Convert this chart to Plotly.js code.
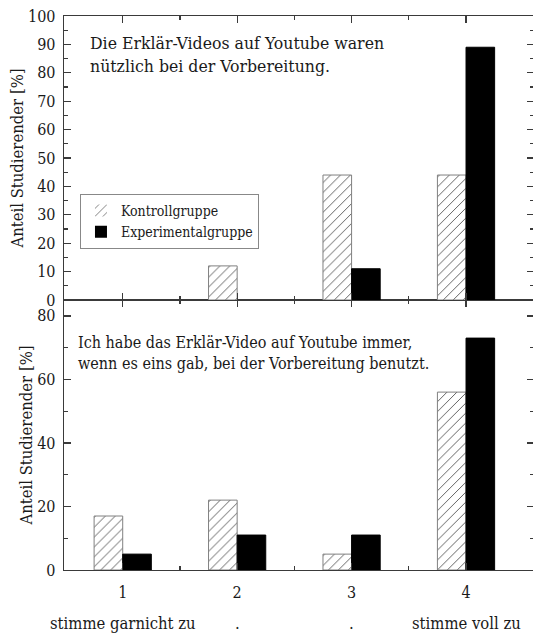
<!DOCTYPE html>
<html>
<head>
<meta charset="utf-8">
<script src="https://cdn.plot.ly/plotly-3.0.1.min.js"></script>
<style>
html,body{margin:0;padding:0;overflow:hidden;background:#fff;}
#chart{width:536px;height:635px;}
</style>
</head>
<body>
<div id="chart"></div>
<script>
// ---- data ----
const categories = [1, 2, 3, 4];
const tickLabels = ['1', '2', '3', '4'];
const scaleLabels = ['stimme garnicht zu', '.', '.', 'stimme voll zu'];
const seriesNames = ['Kontrollgruppe', 'Experimentalgruppe'];
const topKontroll = [0, 12, 44, 44];
const topExperimental = [0, 0, 11, 89];
const bottomKontroll = [17, 22, 5, 56];
const bottomExperimental = [5, 11, 11, 73];
const topStatement = 'Die Erklär-Videos auf Youtube waren<br>nützlich bei der Vorbereitung.';
const bottomStatement = 'Ich habe das Erklär-Video auf Youtube immer,<br>wenn es eins gab, bei der Vorbereitung benutzt.';
const yTitle = 'Anteil Studierender [%]';

// ---- styles ----
const FONT = 'DejaVu Serif Condensed, DejaVu Serif';
const TXT = '#1a1a1a';
const AX = '#3a3a3a';
function hatch(vals) {
  return {
    color: 'white',
    line: {color: '#808080', width: vals.map(v => v > 0 ? 1 : 0)},
    pattern: {shape: '/', fgcolor: '#555', bgcolor: 'white', size: 7, solidity: 0.13}
  };
}
function solid(vals) {
  return {color: 'black', line: {color: 'black', width: vals.map(v => v > 0 ? 1 : 0)}};
}

const traces = [
  {type: 'bar', x: categories, y: topKontroll, name: seriesNames[0], xaxis: 'x2', yaxis: 'y2',
   marker: hatch(topKontroll), showlegend: true, legendgroup: 'k', hoverinfo: 'skip'},
  {type: 'bar', x: categories, y: topExperimental, name: seriesNames[1], xaxis: 'x2', yaxis: 'y2',
   marker: solid(topExperimental), showlegend: true, legendgroup: 'e', hoverinfo: 'skip'},
  {type: 'bar', x: categories, y: bottomKontroll, name: seriesNames[0], xaxis: 'x', yaxis: 'y',
   marker: hatch(bottomKontroll), showlegend: false, legendgroup: 'k', hoverinfo: 'skip'},
  {type: 'bar', x: categories, y: bottomExperimental, name: seriesNames[1], xaxis: 'x', yaxis: 'y',
   marker: solid(bottomExperimental), showlegend: false, legendgroup: 'e', hoverinfo: 'skip'}
];

const split = 0.4874;
const xRange = [0.487, 4.594];

function xAxis(extra) {
  return Object.assign({
    range: xRange, showline: true, linecolor: AX, linewidth: 1.3, mirror: 'allticks',
    ticks: 'inside', ticklen: 7, tickwidth: 1.3, tickcolor: AX,
    tickmode: 'array', tickvals: categories, ticktext: tickLabels,
    minor: {tickmode: 'array', tickvals: [1.5, 2.5, 3.5], ticks: 'inside', ticklen: 4, tickwidth: 1.2, tickcolor: AX},
    showgrid: false, zeroline: false,
    tickfont: {family: FONT, size: 16, color: TXT}
  }, extra);
}
function yAxis(extra) {
  return Object.assign({
    showline: true, linecolor: AX, linewidth: 1.3, mirror: 'allticks',
    ticks: 'inside', ticklen: 7, tickwidth: 1.3, tickcolor: AX,
    showgrid: false, zeroline: false, ticklabelstandoff: 4,
    tickfont: {family: FONT, size: 16, color: TXT},
    title: {text: yTitle, font: {family: FONT, size: 16.5, color: TXT}, standoff: 0}
  }, extra);
}

const annotations = [
  {xref: 'paper', yref: 'paper', x: 0.051, y: 0.973, xanchor: 'left', yanchor: 'top', align: 'left',
   showarrow: false, text: topStatement, font: {family: FONT, size: 17.5, color: TXT}},
  {xref: 'paper', yref: 'paper', x: 0.0255, y: 0.4314, xanchor: 'left', yanchor: 'top', align: 'left',
   showarrow: false, text: bottomStatement, font: {family: FONT, size: 16, color: TXT}}
];
categories.forEach((c, i) => {
  annotations.push({xref: 'x', yref: 'paper', x: c, y: -0.0957, xanchor: 'center', yanchor: 'middle',
    showarrow: false, text: scaleLabels[i], font: {family: FONT, size: 16.5, color: TXT}});
});

const layout = {
  width: 536, height: 635,
  margin: {l: 64, r: 2, t: 16, b: 65},
  paper_bgcolor: 'white', plot_bgcolor: 'white',
  barmode: 'group', bargap: 0.5, bargroupgap: 0,
  font: {family: FONT, color: TXT},
  xaxis: xAxis({anchor: 'y', domain: [0, 1], ticklabelstandoff: 7}),
  yaxis: yAxis({anchor: 'x', domain: [0, split], range: [0, 85], dtick: 20,
    minor: {dtick: 10, ticks: 'inside', ticklen: 4, tickwidth: 1.2, tickcolor: AX}}),
  xaxis2: xAxis({anchor: 'y2', domain: [0, 1], matches: 'x', showticklabels: false}),
  yaxis2: yAxis({anchor: 'x2', domain: [split, 1], range: [0, 100], dtick: 10,
    minor: {dtick: 5, ticks: 'inside', ticklen: 4, tickwidth: 1.2, tickcolor: AX}}),
  legend: {x: 0.034, y: 0.679, xanchor: 'left', yanchor: 'top',
    bgcolor: 'white', bordercolor: '#888', borderwidth: 1,
    font: {family: FONT, size: 14, color: TXT}, tracegroupgap: 0, itemwidth: 30},
  annotations: annotations,
  showlegend: true
};

Plotly.newPlot('chart', traces, layout, {staticPlot: true, displayModeBar: false});
</script>
</body>
</html>
